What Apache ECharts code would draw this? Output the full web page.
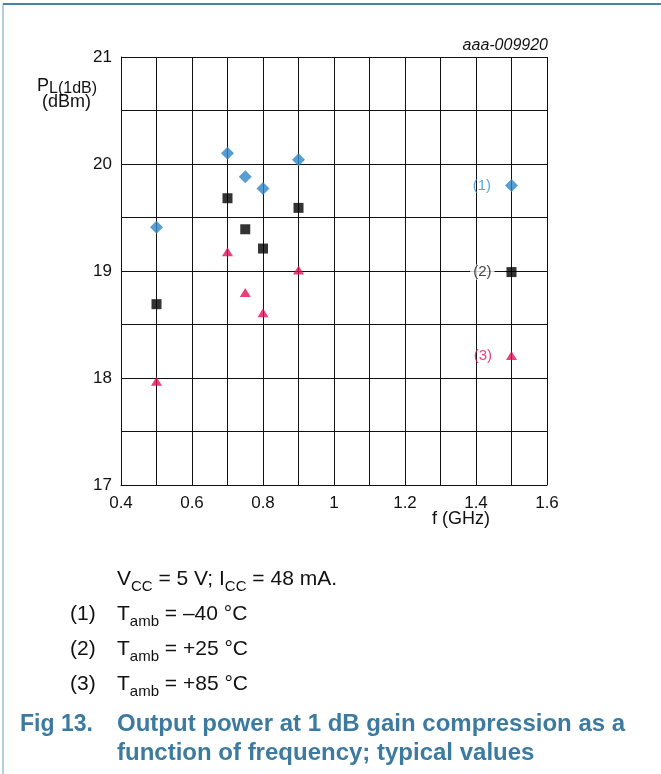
<!DOCTYPE html>
<html>
<head>
<meta charset="utf-8">
<script src="https://cdn.jsdelivr.net/npm/echarts@6/dist/echarts.min.js"></script>
<style>
html,body{margin:0;padding:0;background:#fff;}
#c{width:661px;height:774px;}
</style>
</head>
<body>
<div id="c"></div>
<script>
// ---- data ----
const freqGHz = [0.5, 0.7, 0.75, 0.8, 0.9, 1.5];
const pMinus40 = [19.41, 20.10, 19.88, 19.77, 20.04, 19.80];
const pPlus25 = [18.69, 19.68, 19.39, 19.21, 19.59, 18.99];
const pPlus85 = [17.97, 19.18, 18.80, 18.61, 19.01, 18.21];
const seriesTags = ['(1)', '(2)', '(3)'];
const xTickLabels = ['0.4', '0.6', '0.8', '1', '1.2', '1.4', '1.6'];
const yTickLabels = ['17', '18', '19', '20', '21'];

const FONT = 'Liberation Sans, Arial, sans-serif';
const BLUE = '#2f86c8';
const RED = '#e3105b';
const TITLE = '#3c7b9f';

function makeData(vals, tagIdx, tagColor, bg) {
  const last = freqGHz.length - 1;
  return freqGHz.map((f, i) => {
    if (i !== last) return [f, vals[i]];
    return {
      value: [f, vals[i]],
      label: {
        show: true, position: 'left', distance: bg ? 12 : 14,
        formatter: seriesTags[tagIdx], color: tagColor,
        fontFamily: FONT, fontSize: 15,
        backgroundColor: bg ? '#fff' : 'transparent',
        padding: bg ? [0, 3] : 0
      }
    };
  });
}

const subRich = {
  n: {fontFamily: FONT, fontSize: 21, lineHeight: 25, verticalAlign: 'top'},
  s: {fontFamily: FONT, fontSize: 15, lineHeight: 16, verticalAlign: 'bottom', padding: [10, 0, 0, 0]}
};

const chart = echarts.init(document.getElementById('c'), null, {renderer: 'canvas'});
chart.setOption({
  animation: false,
  backgroundColor: '#fff',
  grid: {left: 121, right: 114, top: 57, bottom: 289, containLabel: false},
  xAxis: {
    type: 'value', min: 0.4, max: 1.6, interval: 0.1,
    axisLine: {show: true, lineStyle: {color: '#111', width: 1}},
    axisTick: {show: false},
    splitLine: {show: true, lineStyle: {color: '#111', width: 1}},
    axisLabel: {
      margin: 10, color: '#111', fontFamily: FONT, fontSize: 17,
      showMinLabel: true, showMaxLabel: true, hideOverlap: false,
      formatter: v => { const s = String(Math.round(v * 10) / 10); return xTickLabels.indexOf(s) >= 0 ? s : ''; }
    }
  },
  yAxis: {
    type: 'value', min: 17, max: 21, interval: 0.5,
    axisLine: {show: true, lineStyle: {color: '#111', width: 1}},
    axisTick: {show: false},
    splitLine: {show: true, lineStyle: {color: '#111', width: 1}},
    axisLabel: {
      margin: 9, color: '#111', fontFamily: FONT, fontSize: 17,
      showMinLabel: true, showMaxLabel: true, hideOverlap: false,
      formatter: v => { const s = String(Math.round(v * 10) / 10); return yTickLabels.indexOf(s) >= 0 ? s : ''; }
    }
  },
  series: [
    {type: 'scatter', symbol: 'diamond', symbolSize: [13, 13], itemStyle: {color: BLUE},
     data: makeData(pMinus40, 0, '#3a91d4', false), z: 5},
    {type: 'scatter', symbol: 'rect', symbolSize: [10, 10], itemStyle: {color: '#000'},
     data: makeData(pPlus25, 1, '#111', true), z: 5},
    {type: 'scatter', symbol: 'triangle', symbolSize: [11, 9], itemStyle: {color: RED},
     data: makeData(pPlus85, 2, RED, false), z: 5}
  ],
  graphic: [
    {type: 'line', shape: {x1: 3, y1: 4, x2: 661, y2: 4}, style: {stroke: '#4582a6', lineWidth: 2}, silent: true},
    {type: 'line', shape: {x1: 3, y1: 4, x2: 3, y2: 774}, style: {stroke: '#6d9cba', lineWidth: 1}, silent: true},
    {type: 'text', right: 113, top: 38, style: {text: 'aaa-009920', font: 'italic 16px ' + FONT, fill: '#111'}},
    {type: 'text', left: 37, top: 74, style: {
      text: '{p|P}{s|L(1dB)}', fill: '#111',
      rich: {p: {fontFamily: FONT, fontSize: 18, lineHeight: 20, verticalAlign: 'top'},
             s: {fontFamily: FONT, fontSize: 16, lineHeight: 17, verticalAlign: 'bottom', padding: [7, 0, 0, 0]}}
    }},
    {type: 'text', left: 42, top: 93, style: {text: '(dBm)', font: '18px ' + FONT, fill: '#111'}},
    {type: 'text', left: 432, top: 510, style: {text: 'f (GHz)', font: '18px ' + FONT, fill: '#111'}},
    {type: 'text', left: 117, top: 569, style: {
      text: '{n|V}{s|CC}{n| = 5 V; I}{s|CC}{n| = 48 mA.}', fill: '#111', rich: subRich
    }},
    ...[0, 1, 2].map(i => ({type: 'text', left: 70, top: 604 + i * 35, style: {text: seriesTags[i], font: '21px ' + FONT, fill: '#111'}})),
    ...['–40', '+25', '+85'].map((t, i) => ({type: 'text', left: 117, top: 604 + i * 35, style: {
      text: '{n|T}{s|amb}{n| = ' + t + ' °C}', fill: '#111', rich: subRich
    }})),
    {type: 'text', left: 20, top: 713, style: {text: 'Fig 13.', font: 'bold 23px ' + FONT, fill: TITLE}},
    {type: 'text', left: 117, top: 712, style: {text: 'Output power at 1 dB gain compression as a', font: 'bold 24px ' + FONT, fill: TITLE}},
    {type: 'text', left: 117, top: 741, style: {text: 'function of frequency; typical values', font: 'bold 24px ' + FONT, fill: TITLE}}
  ]
});
</script>
</body>
</html>
